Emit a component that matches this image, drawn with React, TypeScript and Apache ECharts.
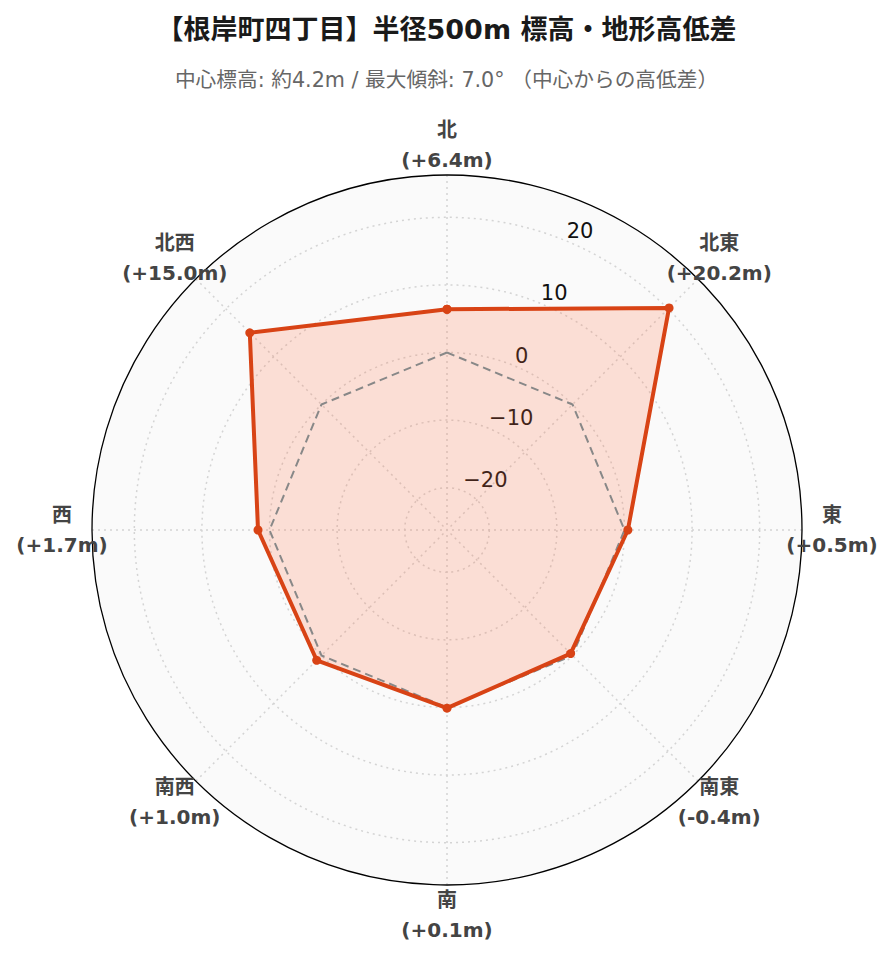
import React, { useEffect, useRef } from "react";
import * as echarts from "echarts";

const TITLE = "【根岸町四丁目】半径500m 標高・地形高低差";
const SUBTITLE = "中心標高: 約4.2m / 最大傾斜: 7.0° （中心からの高低差）";

const categories = ["北", "北東", "東", "南東", "南", "南西", "西", "北西"];
const elevationDiff = [6.4, 20.2, 0.5, -0.4, 0.1, 1.0, 1.7, 15.0];
const referenceLevel = [0, 0, 0, 0, 0, 0, 0, 0];
const radialTicks = [-20, -10, 0, 10, 20];
const radialRange = [-26.26, 26.26];

const FONT = "'DejaVu Sans', 'Noto Sans CJK JP', sans-serif";
const MAIN = "#d84315";
const GRID = { color: "#d4d4d4", type: [2, 4] as any, width: 1.5 };

const fmtDiff = (v: number) => (v >= 0 ? "+" : "") + v.toFixed(1) + "m";

export default function App() {
  const ref = useRef<HTMLDivElement>(null);
  useEffect(() => {
    if (!ref.current) return;
    const chart = echarts.init(ref.current, undefined, { renderer: "svg" });
    const step = 360 / categories.length;
    const center = [447, 530];
    const R = 355;
    const span = radialRange[1] - radialRange[0];
    const tickMin = radialTicks[0];
    const tickMax = radialTicks[radialTicks.length - 1];
    const rIn = (R * (tickMin - radialRange[0])) / span;
    const rOut = (R * (tickMax - radialRange[0])) / span;

    const closed = (vals: number[]) => {
      const d = vals.map((v, i) => [v, i * step]);
      d.push([vals[0], 360]);
      return d;
    };

    chart.setOption({
      animation: false,
      backgroundColor: "#ffffff",
      title: [
        {
          text: TITLE,
          left: "center",
          top: 11,
          textStyle: { fontSize: 27, fontWeight: "bold", color: "#1a1a1a", fontFamily: FONT },
        },
        {
          text: SUBTITLE,
          left: "center",
          top: 65,
          textStyle: { fontSize: 20.7, fontWeight: "normal", color: "#666666", fontFamily: FONT },
        },
      ],
      polar: [
        { center, radius: R },
        { center, radius: [rIn, rOut] },
        { center, radius: R + 30 },
        { center, radius: R },
      ],
      angleAxis: [
        {
          polarIndex: 0,
          type: "value",
          min: 0,
          max: 360,
          interval: step,
          startAngle: 90,
          clockwise: true,
          axisLine: { show: true, lineStyle: { color: "#000", width: 1.3 } },
          axisTick: { show: false },
          axisLabel: { show: false },
          splitLine: { show: true, lineStyle: GRID },
          splitArea: { show: false },
          z: 1,
        },
        { polarIndex: 1, type: "value", min: 0, max: 360, startAngle: 67.5, show: false },
        { polarIndex: 2, type: "value", min: 0, max: 360, startAngle: 90, clockwise: true, show: false },
        {
          polarIndex: 3,
          type: "value",
          min: 0,
          max: 360,
          interval: step,
          startAngle: 90,
          axisLine: { show: false },
          axisTick: { show: false },
          axisLabel: { show: false },
          splitLine: { show: false },
          splitArea: { show: true, areaStyle: { color: ["#fafafa"] } },
          z: -1,
        },
      ],
      radiusAxis: [
        { polarIndex: 0, type: "value", min: radialRange[0], max: radialRange[1], show: false },
        {
          polarIndex: 1,
          type: "value",
          min: tickMin,
          max: tickMax,
          interval: 10,
          axisLine: { show: false },
          axisTick: { show: false },
          splitLine: { show: true, lineStyle: GRID },
          axisLabel: {
            show: true,
            showMinLabel: true,
            showMaxLabel: true,
            margin: 0,
            align: "left",
            verticalAlign: "bottom",
            fontSize: 21,
            color: "#111",
            fontFamily: FONT,
            formatter: (v: number) => String(v).replace("-", "\u2212"),
          },
          z: 1,
        },
        { polarIndex: 2, type: "value", min: 0, max: 1, show: false },
        { polarIndex: 3, type: "value", min: 0, max: 1, show: false },
      ],
      series: [
        {
          name: "fill",
          type: "line",
          coordinateSystem: "polar",
          polarIndex: 0,
          data: closed(elevationDiff),
          symbol: "none",
          lineStyle: { width: 0, color: MAIN },
          areaStyle: { color: "rgba(255,112,67,0.2)", opacity: 1, origin: "start" },
          z: 2,
        },
        {
          name: "基準 (0m)",
          type: "line",
          coordinateSystem: "polar",
          polarIndex: 0,
          data: closed(referenceLevel),
          symbol: "none",
          lineStyle: { color: "#888888", width: 2, type: [8, 5] },
          z: 3,
        },
        {
          name: "高低差",
          type: "line",
          coordinateSystem: "polar",
          polarIndex: 0,
          data: closed(elevationDiff),
          symbol: "circle",
          symbolSize: 9,
          itemStyle: { color: MAIN },
          lineStyle: { color: MAIN, width: 4 },
          z: 4,
        },
        {
          type: "scatter",
          coordinateSystem: "polar",
          polarIndex: 2,
          symbolSize: 1,
          itemStyle: { color: "#ffffff", opacity: 1 },
          data: categories.map((c, i) => [1, i * step]),
          label: {
            show: true,
            position: "inside",
            formatter: (p: any) => `${categories[p.dataIndex]}\n(${fmtDiff(elevationDiff[p.dataIndex])})`,
            fontSize: 20,
            fontWeight: "bold",
            color: "#444444",
            opacity: 1,
            textBorderWidth: 0,
            lineHeight: 30,
            align: "center",
            verticalAlign: "middle",
            fontFamily: FONT,
          },
          z: 5,
        },
      ],
    });
    return () => chart.dispose();
  }, []);
  return <div ref={ref} style={{ position: "fixed", left: 0, top: 0, width: 893, height: 962 }} />;
}
